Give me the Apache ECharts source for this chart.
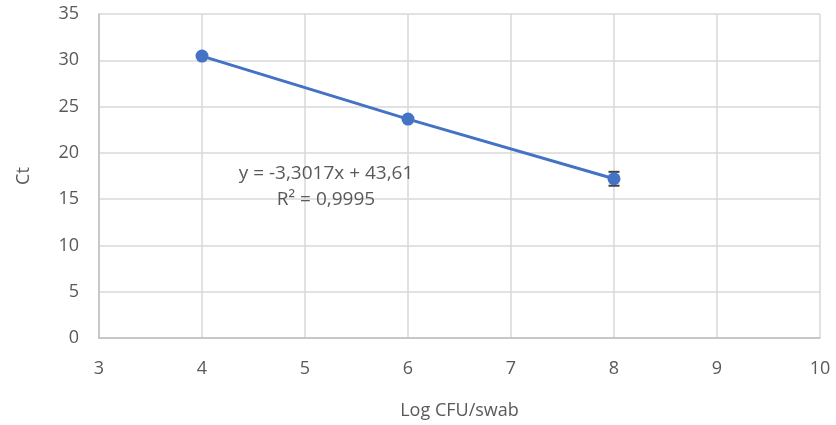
<!DOCTYPE html>
<html><head><meta charset="utf-8">
<script src="https://cdn.jsdelivr.net/npm/echarts@6/dist/echarts.min.js"></script>
<style>html,body{margin:0;padding:0;background:#fff}#c{width:836px;height:425px}</style>
</head><body><div id="c"></div>
<script>
const logCFU = [4, 6, 8];
const ctValues = [30.45, 23.65, 17.2];
const ctErrors = [0.1, 0.1, 0.75];
const equationText = 'y = -3,3017x + 43,61';
const r2Text = 'R² = 0,9995';
const xTitle = 'Log CFU/swab';
const yTitle = 'Ct';

const FONT = '"Open Sans", "Noto Sans", sans-serif';
const FS = 18;
const TXT = '#595959';
const chart = echarts.init(document.getElementById('c'), null, {renderer: 'canvas'});
const errData = logCFU.map((x, i) => [x, ctValues[i] - ctErrors[i], ctValues[i] + ctErrors[i]]);
chart.setOption({
  animation: false,
  grid: {left: 99, right: 16, top: 14, bottom: 87},
  xAxis: {
    type: 'value', min: 3, max: 10, interval: 1,
    name: xTitle, nameLocation: 'middle', nameGap: 64,
    nameTextStyle: {color: TXT, fontSize: FS, fontFamily: FONT},
    axisLine: {show: true, lineStyle: {color: '#bfbfbf', width: 1.5}},
    axisTick: {show: false},
    axisLabel: {color: TXT, fontSize: FS, fontFamily: FONT, margin: 22},
    splitLine: {show: true, lineStyle: {color: '#d9d9d9', width: 1.5}}
  },
  yAxis: {
    type: 'value', min: 0, max: 35, interval: 5,
    name: yTitle, nameLocation: 'middle', nameGap: 66,
    nameTextStyle: {color: TXT, fontSize: FS, fontFamily: FONT},
    axisLine: {show: true, lineStyle: {color: '#bfbfbf', width: 1.5}},
    axisTick: {show: false},
    axisLabel: {color: TXT, fontSize: FS, fontFamily: FONT, margin: 20},
    splitLine: {show: true, lineStyle: {color: '#d9d9d9', width: 1.5}}
  },
  series: [
    {
      type: 'custom',
      data: errData,
      z: 2,
      renderItem: function (params, api) {
        const x = api.value(0);
        const lo = api.coord([x, api.value(1)]);
        const hi = api.coord([x, api.value(2)]);
        const hw = 5.5;
        const st = {stroke: '#404040', lineWidth: 2};
        return {type: 'group', children: [
          {type: 'line', shape: {x1: lo[0], y1: lo[1], x2: hi[0], y2: hi[1]}, style: st},
          {type: 'line', shape: {x1: lo[0]-hw, y1: lo[1], x2: lo[0]+hw, y2: lo[1]}, style: st},
          {type: 'line', shape: {x1: hi[0]-hw, y1: hi[1], x2: hi[0]+hw, y2: hi[1]}, style: st}
        ]};
      }
    },
    {
      type: 'line',
      data: logCFU.map((x, i) => [x, ctValues[i]]),
      symbol: 'circle', symbolSize: 13,
      lineStyle: {color: '#4472C4', width: 3},
      itemStyle: {color: '#4472C4'},
      z: 3
    }
  ],
  graphic: [
    {type: 'text', x: 326, y: 174, z: 10, style: {text: equationText, fill: TXT, font: '19px ' + FONT, textAlign: 'center', textVerticalAlign: 'middle'}},
    {type: 'text', x: 326, y: 200, z: 10, style: {text: r2Text, fill: TXT, font: '19px ' + FONT, textAlign: 'center', textVerticalAlign: 'middle'}}
  ]
});
</script></body></html>
